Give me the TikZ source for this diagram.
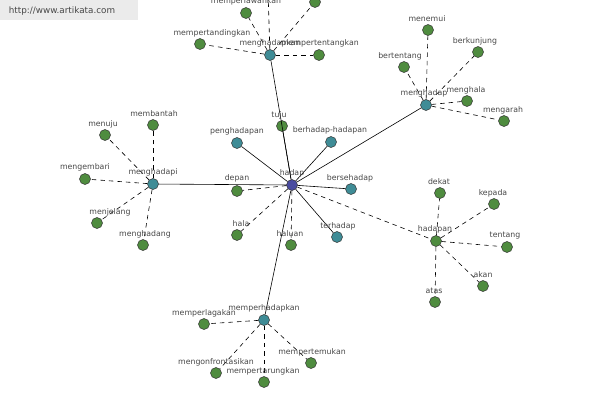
\documentclass[tikz,border=0pt]{standalone}
\usepackage{fontspec}
\setmainfont{DejaVu Sans}
\definecolor{gfill}{HTML}{4F8C3F}
\definecolor{tfill}{HTML}{3F8C96}
\definecolor{hfill}{HTML}{4A4CA0}
\definecolor{lbl}{HTML}{484848}
\begin{document}
\begin{tikzpicture}[x=1pt,y=-1pt,
  gn/.style={circle,draw=black!80,line width=0.5pt,fill=gfill,minimum size=11pt,inner sep=0pt},
  tn/.style={gn,fill=tfill},
  hn/.style={gn,fill=hfill},
  lb/.style={font=\fontsize{7.8}{8}\selectfont,text=lbl,inner sep=0pt},
  sl/.style={line width=0.6pt},
  dl/.style={line width=0.6pt,dash pattern=on 4.5pt off 4pt}]
\useasboundingbox (0,0) rectangle (600,400);
\clip (0,0) rectangle (600,400);
\fill[white] (0,0) rectangle (600,400);
\fill[black!8] (0,0) rectangle (138,20);
\node[font=\fontsize{8.8}{10}\selectfont,text=black!72,inner sep=0pt] (url) at (62,11) {http://www.artikata.com};
% main nodes
\node[hn] (hadap) at (292,185) {};
\node[tn] (menghadapi) at (153,184) {};
\node[gn] (depan) at (237,191) {};
\node[tn] (penghadapan) at (237,143) {};
\node[gn] (tuju) at (282,126) {};
\node[tn] (berhh) at (331,142) {};
\node[tn] (bersehadap) at (351,189) {};
\node[tn] (terhadap) at (337,237) {};
\node[gn] (haluan) at (291,245) {};
\node[gn] (hala) at (237,235) {};
\node[tn] (menghadapkan) at (270,55) {};
\node[tn] (menghadap) at (426,105) {};
\node[gn] (hadapan) at (436,241) {};
\node[tn] (memperhadapkan) at (264,320) {};
% menghadapi children
\node[gn] (membantah) at (153,125) {};
\node[gn] (menuju) at (105,135) {};
\node[gn] (mengembari) at (85,179) {};
\node[gn] (menjelang) at (97,223) {};
\node[gn] (menghadang) at (143,245) {};
% menghadapkan children
\node[gn] (mempertandingkan) at (200,44) {};
\node[gn] (memperlawankan) at (246,13) {};
\node[gn] (topr) at (315,2) {};
\coordinate (topc) at (268,-10);
\node[gn] (mempertentangkan) at (319,55) {};
% menghadap children
\node[gn] (menemui) at (428,30) {};
\node[gn] (bertentang) at (404,67) {};
\node[gn] (berkunjung) at (478,52) {};
\node[gn] (menghala) at (467,101) {};
\node[gn] (mengarah) at (504,121) {};
% hadapan children
\node[gn] (dekat) at (440,193) {};
\node[gn] (kepada) at (494,204) {};
\node[gn] (tentang) at (507,247) {};
\node[gn] (akan) at (483,286) {};
\node[gn] (atas) at (435,302) {};
% memperhadapkan children
\node[gn] (memperlagakan) at (204,324) {};
\node[gn] (mengonfrontasikan) at (216,373) {};
\node[gn] (mempertarungkan) at (264,382) {};
\node[gn] (mempertemukan) at (311,363) {};
% edges
\foreach \n in {menghadapi,penghadapan,tuju,berhh,bersehadap,terhadap,menghadapkan,menghadap,memperhadapkan}
  \draw[sl] (hadap) -- (\n);
\foreach \n in {depan,hala,haluan,hadapan}
  \draw[dl] (hadap) -- (\n);
\foreach \n in {membantah,menuju,mengembari,menjelang,menghadang}
  \draw[dl] (menghadapi) -- (\n);
\foreach \n in {mempertandingkan,memperlawankan,topr,topc,mempertentangkan}
  \draw[dl] (menghadapkan) -- (\n);
\foreach \n in {menemui,bertentang,berkunjung,menghala,mengarah}
  \draw[dl] (menghadap) -- (\n);
\foreach \n in {dekat,kepada,tentang,akan,atas}
  \draw[dl] (hadapan) -- (\n);
\foreach \n in {memperlagakan,mengonfrontasikan,mempertarungkan,mempertemukan}
  \draw[dl] (memperhadapkan) -- (\n);
% labels
\node[lb] (l1) at (292,173) {hadap};
\node[lb] (l2) at (153,172) {menghadapi};
\node[lb] (l3) at (237,178) {depan};
\node[lb] (l4) at (237,131) {penghadapan};
\node[lb] (l5) at (279,115) {tuju};
\node[lb] (l6) at (330,130) {berhadap-hadapan};
\node[lb] (l7) at (350,178) {bersehadap};
\node[lb] (l8) at (338,226) {terhadap};
\node[lb] (l9) at (290,234) {haluan};
\node[lb] (l10) at (241,224) {hala};
\node[lb] (l11) at (270,43) {menghadapkan};
\node[lb] (l12) at (424,93) {menghadap};
\node[lb] (l13) at (435,229) {hadapan};
\node[lb] (l14) at (264,308) {memperhadapkan};
\node[lb] (l15) at (154,114) {membantah};
\node[lb] (l16) at (103,124) {menuju};
\node[lb] (l17) at (85,167) {mengembari};
\node[lb] (l18) at (110,212) {menjelang};
\node[lb] (l19) at (145,234) {menghadang};
\node[lb] (l20) at (212,33) {mempertandingkan};
\node[lb] (l21) at (246,1) {memperlawankan};
\node[lb] (l22) at (320,43) {mempertentangkan};
\node[lb] (l23) at (427,19) {menemui};
\node[lb] (l24) at (400,56) {bertentang};
\node[lb] (l25) at (475,41) {berkunjung};
\node[lb] (l26) at (466,90) {menghala};
\node[lb] (l27) at (503,110) {mengarah};
\node[lb] (l28) at (439,182) {dekat};
\node[lb] (l29) at (493,193) {kepada};
\node[lb] (l30) at (505,236) {tentang};
\node[lb] (l31) at (483,275) {akan};
\node[lb] (l32) at (434,291) {atas};
\node[lb] (l33) at (204,313) {memperlagakan};
\node[lb] (l34) at (216,362) {mengonfrontasikan};
\node[lb] (l35) at (263,371) {mempertarungkan};
\node[lb] (l36) at (312,352) {mempertemukan};
\end{tikzpicture}
\end{document}
